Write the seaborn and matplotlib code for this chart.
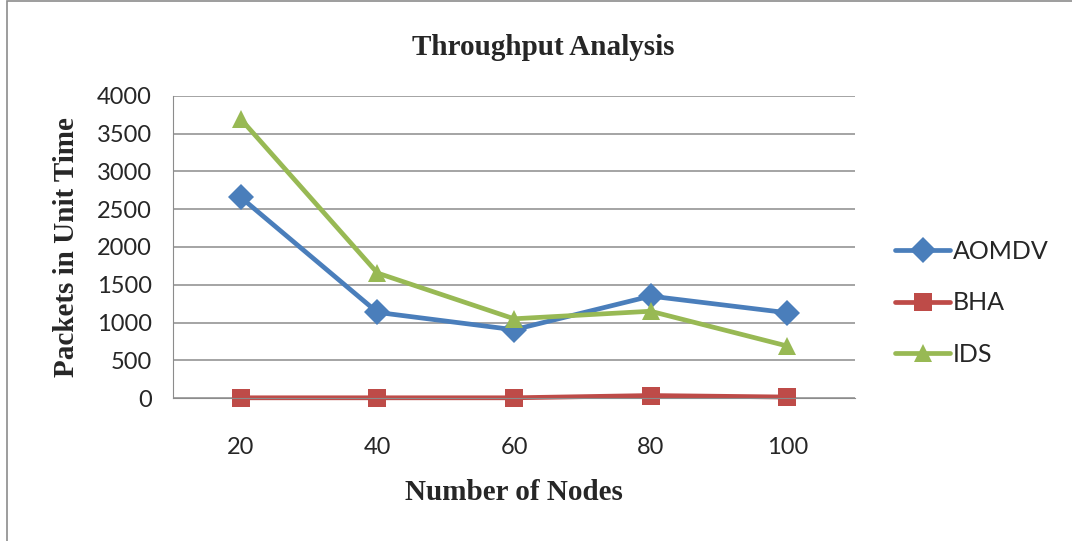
import pandas as pd
import matplotlib
matplotlib.use("Agg")
import matplotlib.pyplot as plt
import seaborn as sns

# data
nodes = ["20", "40", "60", "80", "100"]
aomdv = [2655, 1135, 905, 1350, 1130]
bha = [5, 5, 5, 35, 15]
ids = [3690, 1655, 1050, 1150, 690]

series = ["AOMDV", "BHA", "IDS"]
colors = ["#4A7EBB", "#BE4B48", "#98B954"]
markers = ["D", "s", "^"]

df = pd.DataFrame({
    "Nodes": nodes * 3,
    "Packets": aomdv + bha + ids,
    "Series": ["AOMDV"] * 5 + ["BHA"] * 5 + ["IDS"] * 5,
})

sns.set_style("white")
plt.rcParams["font.family"] = ["Lato", "DejaVu Sans"]

fig = plt.figure(figsize=(10.72, 5.41), dpi=100)
ax = fig.add_axes([0.161, 0.264, 0.637, 0.559])

sns.lineplot(data=df, x="Nodes", y="Packets", hue="Series", style="Series",
             palette=dict(zip(series, colors)), markers=dict(zip(series, markers)),
             dashes=False, linewidth=3.4, markersize=13, markeredgewidth=0,
             ax=ax, sort=False)
for ln in ax.lines:
    ln.set_clip_on(False)

ax.set_xlim(-0.5, 4.5)
ax.set_ylim(0, 4000)
ax.set_yticks(range(0, 4001, 500))
ax.grid(axis="y", color="#8c8c8c", linewidth=1.1)
ax.grid(axis="x", visible=False)
for s in ["top", "right"]:
    ax.spines[s].set_visible(False)
ax.spines["left"].set_color("#8c8c8c")
ax.spines["bottom"].set_color("#8c8c8c")
ax.tick_params(axis="both", labelsize=17, length=0)
ax.tick_params(axis="x", pad=28)
ax.tick_params(axis="y", pad=15)

ax.set_xlabel("Number of Nodes", family="Liberation Serif", fontweight="bold",
              fontsize=21, labelpad=15)
ax.set_ylabel("Packets in Unit Time", family="Liberation Serif", fontweight="bold",
              fontsize=21, labelpad=12)
fig.text(0.5065, 0.912, "Throughput Analysis", family="Liberation Serif",
         fontweight="bold", fontsize=21, ha="center", va="center")

ax.legend(loc="center left", bbox_to_anchor=(1.025, 0.315), frameon=False,
          fontsize=18, handlelength=2.2, labelspacing=1.15, handletextpad=0.1)
ax.legend_.set_title(None)

# thin frame round the whole chart like the Excel export
fig.patches.append(plt.Rectangle((0.0065, -0.01), 1.0, 1.008, transform=fig.transFigure,
                                 fill=False, edgecolor="#8c8c8c", linewidth=1.2))

fig.savefig("out.png", dpi=100)
